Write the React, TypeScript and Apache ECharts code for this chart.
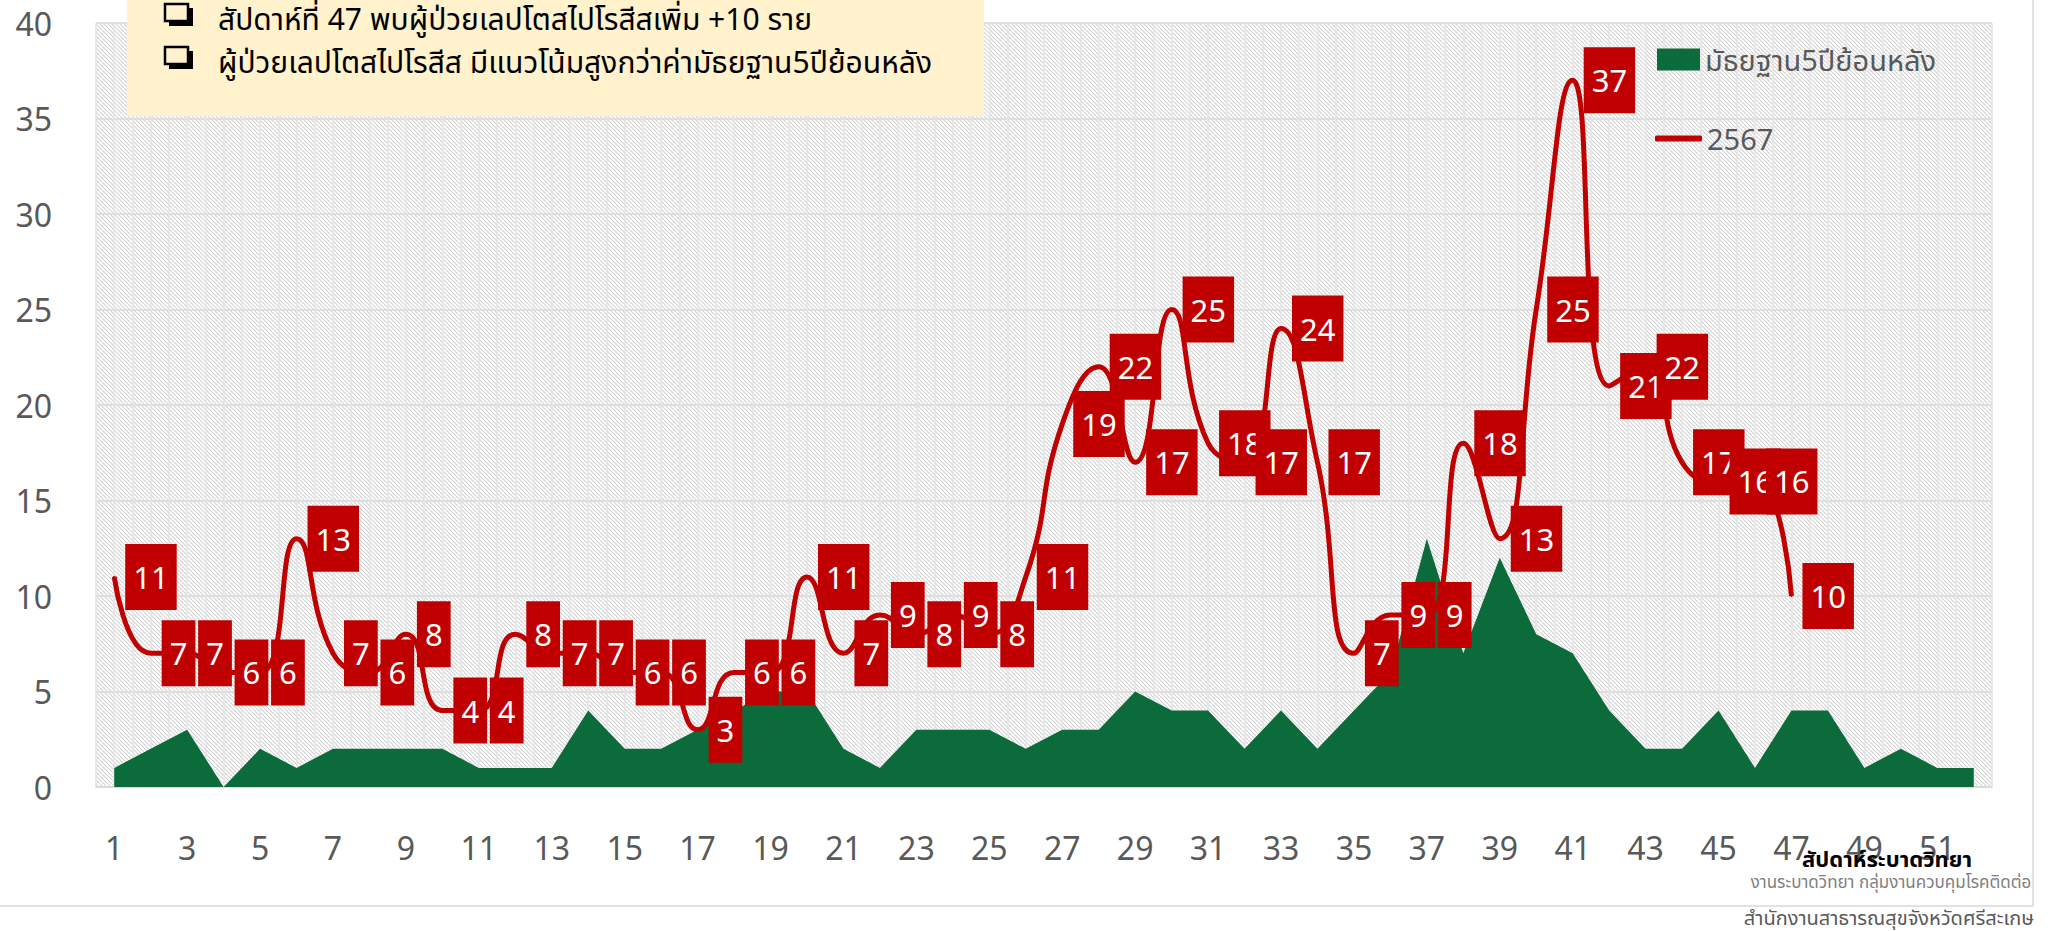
import React, { useEffect, useRef } from "react";
import * as echarts from "echarts";

const weeks = [
  "1","2","3","4","5","6","7","8","9","10","11","12","13","14","15","16","17","18","19","20",
  "21","22","23","24","25","26","27","28","29","30","31","32","33","34","35","36","37","38","39","40",
  "41","42","43","44","45","46","47","48","49","50","51","52",
];
const medianName = "มัธยฐาน5ปีย้อนหลัง";
const lineName = "2567";
const median5y = [
  1, 2, 3, 0, 2, 1, 2, 2, 2, 2,
  1, 1, 1, 4, 2, 2, 3, 4, 5, 5,
  2, 1, 3, 3, 3, 2, 3, 3, 5, 4,
  4, 2, 4, 2, 4, 6, 13, 7, 12, 8,
  7, 4, 2, 2, 4, 1, 4, 4, 1, 2, 1, 1,
];
const cases2567 = [
  11, 7, 7, 6, 6, 13, 7, 6, 8, 4,
  4, 8, 7, 7, 6, 6, 3, 6, 6, 11,
  7, 9, 8, 9, 8, 11, 19, 22, 17, 25,
  18, 17, 24, 17, 7, 9, 9, 18, 13, 25,
  37, 21, 22, 17, 16, 16, 10,
];
const yTicks = { min: 0, max: 40, interval: 5 };
const noteLines = [
  "สัปดาห์ที่ 47 พบผู้ป่วยเลปโตสไปโรสีสเพิ่ม +10 ราย",
  "ผู้ป่วยเลปโตสไปโรสีส มีแนวโน้มสูงกว่าค่ามัธยฐาน5ปีย้อนหลัง",
];
const xAxisTitle = "สัปดาห์ระบาดวิทยา";
const credit1 = "งานระบาดวิทยา กลุ่มงานควบคุมโรคติดต่อ";
const credit2 = "สำนักงานสาธารณสุขจังหวัดศรีสะเกษ";

const RED = "#C00000";
const GREEN = "#0B6B3A";
const GRAY = "#595959";
const FONT = '"Noto Sans", "Noto Sans Thai", sans-serif';

function makeHatch() {
  const c = document.createElement("canvas");
  c.width = 4;
  c.height = 4;
  const ctx = c.getContext("2d")!;
  ctx.fillStyle = "#ffffff";
  ctx.fillRect(0, 0, 4, 4);
  ctx.strokeStyle = "#d2d2d2";
  ctx.lineWidth = 1.1;
  ctx.beginPath();
  for (const k of [-4, 0, 4]) {
    ctx.moveTo(k, 0);
    ctx.lineTo(k + 4, 4);
  }
  ctx.stroke();
  return c;
}

function checkbox(x: number, y: number) {
  return [
    { type: "rect", z: 101, shape: { x: x + 4, y: y + 4, width: 24, height: 18 }, style: { fill: "#000" } },
    {
      type: "rect",
      z: 102,
      shape: { x: x, y: y, width: 23, height: 17 },
      style: { fill: "#FFF2CC", stroke: "#000", lineWidth: 2.5 },
    },
  ];
}

export default function App() {
  const ref = useRef<HTMLDivElement>(null);
  useEffect(() => {
    if (!ref.current) return;
    const chart = echarts.init(ref.current, undefined, { renderer: "svg" });
    const hatch = makeHatch();
    const option: any = {
      animation: false,
      backgroundColor: "#ffffff",
      textStyle: { fontFamily: FONT },
      grid: {
        left: 96,
        right: 66,
        top: 23,
        bottom: 144,
        show: true,
        borderWidth: 0,
        backgroundColor: { image: hatch, repeat: "repeat" },
      },
      legend: [
        {
          data: [{ name: medianName, icon: "rect" }],
          left: 1657,
          top: 45,
          padding: 0,
          itemWidth: 43,
          itemHeight: 22,
          textStyle: { fontSize: 29, color: GRAY, fontFamily: FONT },
        },
        {
          data: [{ name: lineName, icon: "roundRect" }],
          left: 1655,
          top: 124,
          padding: 0,
          itemWidth: 47,
          itemHeight: 6,
          textStyle: { fontSize: 29, color: GRAY, fontFamily: FONT },
        },
      ],
      xAxis: [
        {
          type: "category",
          data: weeks,
          boundaryGap: true,
          axisTick: { show: false },
          axisLine: { show: true, lineStyle: { color: "#d9d9d9", width: 1.5 } },
          axisLabel: { interval: 1, fontSize: 32, color: GRAY, margin: 44, fontFamily: FONT },
          splitLine: { show: false },
        },
        {
          type: "category",
          data: new Array(weeks.length * 2).fill(""),
          boundaryGap: true,
          position: "bottom",
          axisTick: { show: false },
          axisLine: { show: false },
          axisLabel: { show: false },
          splitLine: { show: true, interval: 0, lineStyle: { color: "#e4e4e4", width: 1.5 } },
        },
      ],
      yAxis: {
        type: "value",
        min: yTicks.min,
        max: yTicks.max,
        interval: yTicks.interval,
        axisLine: { show: false },
        axisTick: { show: false },
        axisLabel: { fontSize: 32, color: GRAY, margin: 44, fontFamily: FONT },
        splitLine: { show: true, lineStyle: { color: "#d9d9d9", width: 1.5 } },
      },
      series: [
        {
          name: medianName,
          type: "line",
          data: median5y,
          xAxisIndex: 0,
          symbol: "none",
          itemStyle: { color: GREEN },
          lineStyle: { width: 0, color: GREEN },
          areaStyle: { color: GREEN, opacity: 1 },
          z: 2,
        },
        {
          name: lineName,
          type: "line",
          data: cases2567,
          xAxisIndex: 0,
          smooth: 0.5,
          symbol: "circle",
          symbolSize: 2,
          showSymbol: true,
          showAllSymbol: true,
          itemStyle: { color: RED },
          lineStyle: { width: 5, color: RED },
          label: {
            show: true,
            position: "right",
            distance: 10,
            fontSize: 31,
            lineHeight: 36,
            color: "#ffffff",
            fontFamily: FONT,
            backgroundColor: RED,
            padding: [15, 8],
          },
          z: 3,
        },
      ],
      graphic: [
        { type: "line", z: 100, shape: { x1: 0, y1: 906, x2: 2033, y2: 906 }, style: { stroke: "#d9d9d9", lineWidth: 1.5 } },
        { type: "line", z: 100, shape: { x1: 2033, y1: 0, x2: 2033, y2: 906 }, style: { stroke: "#d9d9d9", lineWidth: 1.5 } },
        { type: "rect", z: 100, shape: { x: 127, y: 0, width: 857, height: 116 }, style: { fill: "#FFF2CC" } },
        ...checkbox(165, 4),
        ...checkbox(165, 47),
        {
          type: "text",
          z: 103,
          x: 218,
          y: 18,
          style: { text: noteLines[0], fontSize: 30, fill: "#000", fontFamily: FONT, verticalAlign: "middle" },
        },
        {
          type: "text",
          z: 103,
          x: 218,
          y: 61,
          style: { text: noteLines[1], fontSize: 30, fill: "#000", fontFamily: FONT, verticalAlign: "middle" },
        },
        {
          type: "text",
          z: 103,
          x: 1887,
          y: 858,
          style: { text: xAxisTitle, fontSize: 22, fontWeight: "bold", fill: "#000", fontFamily: FONT, align: "center", verticalAlign: "middle" },
        },
        {
          type: "text",
          z: 103,
          x: 1891,
          y: 881,
          style: { text: credit1, fontSize: 17, fill: "#7f7f7f", fontFamily: FONT, align: "center", verticalAlign: "middle" },
        },
        {
          type: "text",
          z: 103,
          x: 1889,
          y: 917,
          style: { text: credit2, fontSize: 20, fill: GRAY, fontFamily: FONT, align: "center", verticalAlign: "middle" },
        },
      ],
    };
    chart.setOption(option);
    return () => chart.dispose();
  }, []);
  return (
    <div
      ref={ref}
      style={{ position: "fixed", left: 0, top: 0, width: 2058, height: 931, background: "#fff" }}
    />
  );
}
